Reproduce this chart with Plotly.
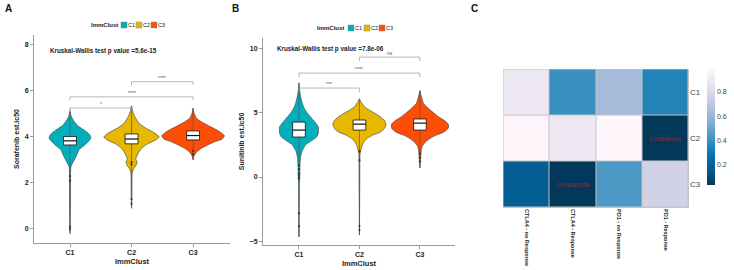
import plotly.graph_objects as go

W, H = 734, 270

groups = ["C1", "C2", "C3"]
group_pos = [1, 2, 3]
colors = ["#00AFBB", "#E7B800", "#FC4E07"]

# ---- Panel A: Sorafenib est.ic50 (violin profile: y level, half-width in category units)
sora_c1_y = [5.1, 4.9, 4.7, 4.5, 4.3, 4.1, 3.95, 3.8, 3.65, 3.45, 3.15, 2.9, 2.7, 2.4, 1.0, -0.2]
sora_c1_w = [0.0, 0.02, 0.06, 0.12, 0.23, 0.32, 0.34, 0.30, 0.24, 0.15, 0.10, 0.05, 0.015, 0.008, 0.007, 0.0]
sora_c2_y = [5.35, 5.1, 4.9, 4.6, 4.4, 4.2, 4.0, 3.85, 3.7, 3.5, 3.3, 3.05, 2.9, 2.75, 2.6, 2.4, 1.5, 0.9]
sora_c2_w = [0.0, 0.02, 0.05, 0.12, 0.22, 0.36, 0.45, 0.38, 0.26, 0.16, 0.11, 0.07, 0.09, 0.07, 0.03, 0.01, 0.007, 0.0]
sora_c3_y = [5.25, 5.0, 4.8, 4.65, 4.45, 4.25, 4.05, 3.9, 3.8, 3.65, 3.5, 3.35, 3.2, 3.0]
sora_c3_w = [0.0, 0.02, 0.06, 0.14, 0.28, 0.42, 0.51, 0.47, 0.36, 0.24, 0.13, 0.06, 0.02, 0.0]
sora_q1 = [3.65, 3.70, 3.87]
sora_med = [3.83, 3.91, 4.06]
sora_q3 = [4.02, 4.13, 4.26]
sora_min = [-0.2, 0.9, 3.0]
sora_max = [5.2, 5.35, 5.25]
sora_out_x = [1, 1, 1, 1, 2, 2, 2, 2, 3, 3]
sora_out_y = [2.3, 2.1, 0.1, 0.0, 2.9, 2.8, 1.3, 1.1, 3.4, 3.25]
sora_pairs = [(1, 2), (1, 3), (2, 3)]
sora_pair_y = [5.26, 5.74, 6.4]
sora_pair_lab = ["*", "****", "****"]
sora_kw = "Kruskal-Wallis test p value =5.6e-15"

# ---- Panel B: Sunitinib est.ic50
suni_c1_y = [7.3, 6.8, 6.3, 5.8, 5.4, 4.95, 4.45, 3.9, 3.4, 3.1, 2.85, 2.5, 2.0, 1.5, 0.8, 0.0, -0.6, -4.65]
suni_c1_w = [0.0, 0.01, 0.025, 0.05, 0.08, 0.14, 0.23, 0.32, 0.32, 0.29, 0.22, 0.11, 0.05, 0.025, 0.015, 0.012, 0.006, 0.0]
suni_c2_y = [6.05, 5.8, 5.45, 5.2, 4.93, 4.65, 4.35, 4.05, 3.75, 3.5, 3.25, 3.0, 2.75, 2.45, 2.2, 1.8, 0.0, -4.5]
suni_c2_w = [0.0, 0.03, 0.085, 0.16, 0.26, 0.35, 0.42, 0.44, 0.41, 0.35, 0.22, 0.13, 0.08, 0.045, 0.03, 0.01, 0.006, 0.0]
suni_c3_y = [6.7, 6.3, 5.7, 5.2, 4.7, 4.4, 4.1, 3.8, 3.5, 3.25, 3.0, 2.75, 2.4, 2.0, 1.4, 0.7]
suni_c3_w = [0.0, 0.02, 0.06, 0.17, 0.30, 0.40, 0.47, 0.47, 0.40, 0.27, 0.17, 0.10, 0.04, 0.02, 0.012, 0.0]
suni_q1 = [3.10, 3.64, 3.64]
suni_med = [3.64, 4.10, 4.18]
suni_q3 = [4.26, 4.42, 4.50]
suni_min = [-4.65, -4.5, 0.7]
suni_max = [7.3, 6.1, 6.7]
suni_out_x = [1, 1, 1, 1, 1, 1, 1, 2, 2, 2, 2, 3, 3, 3]
suni_out_y = [0.9, 0.6, 0.3, 0.1, -0.1, -2.8, -3.8, 2.0, 1.3, -3.8, -4.1, 1.8, 1.5, 1.2]
suni_pairs = [(1, 2), (1, 3), (2, 3)]
suni_pair_y = [6.9, 8.06, 9.3]
suni_pair_lab = ["***", "****", "ns"]
suni_kw = "Kruskal-Wallis test p value =7.8e-06"

# ---- Panel C: heatmap
heat_cols = ["CTLA4 - no Response", "CTLA4 - Response", "PD1 - no Response", "PD1 - Response"]
heat_rows = ["C1", "C2", "C3"]
heat_c1 = [0.88, 0.40, 0.63, 0.35]
heat_c2 = [0.98, 0.88, 0.995, 0.036]
heat_c3 = [0.18, 0.040, 0.44, 0.76]
heat_text_c1 = ["", "", "", ""]
heat_text_c2 = ["", "", "", "0.03590643"]
heat_text_c3 = ["", "0.04001599", "", ""]
cbar_ticks = [0.2, 0.4, 0.6, 0.8]

FONT = "Liberation Sans, Arial, sans-serif"
BOX_HALF = 0.105


def px(x):
    return x / W


def py(y):
    return 1 - y / H


fig = go.Figure()


def add_violin_panel(xa, ya, profiles, q1, med, q3, vmin, vmax, out_x, out_y):
    for i, (ys, ws) in enumerate(profiles):
        pos = group_pos[i]
        xs = [pos + w for w in ws] + [pos - w for w in reversed(ws)]
        yy = list(ys) + list(reversed(ys))
        fig.add_trace(go.Scatter(
            x=xs, y=yy, mode="lines", fill="toself", fillcolor=colors[i],
            line=dict(color="#3a3a3a", width=0.6, shape="spline", smoothing=0.5),
            name=groups[i], showlegend=False, hoverinfo="skip",
            xaxis=xa, yaxis=ya))
    for i in range(len(groups)):
        pos = group_pos[i]
        fig.add_trace(go.Scatter(
            x=[pos, pos, None, pos, pos], y=[vmin[i], q1[i], None, q3[i], vmax[i]],
            mode="lines", line=dict(color="#555", width=0.7),
            showlegend=False, hoverinfo="skip", xaxis=xa, yaxis=ya))
    fig.add_trace(go.Scatter(
        x=out_x, y=out_y, mode="markers",
        marker=dict(color="black", size=2.4, opacity=0.45),
        showlegend=False, hoverinfo="skip", xaxis=xa, yaxis=ya))
    for i in range(len(groups)):
        pos = group_pos[i]
        fig.add_trace(go.Scatter(
            x=[pos - BOX_HALF, pos + BOX_HALF, pos + BOX_HALF, pos - BOX_HALF, pos - BOX_HALF],
            y=[q1[i], q1[i], q3[i], q3[i], q1[i]],
            mode="lines", fill="toself", fillcolor="white",
            line=dict(color="#111", width=0.8),
            showlegend=False, hoverinfo="skip", xaxis=xa, yaxis=ya))
        fig.add_trace(go.Scatter(
            x=[pos - BOX_HALF, pos + BOX_HALF], y=[med[i], med[i]],
            mode="lines", line=dict(color="#111", width=1.2),
            showlegend=False, hoverinfo="skip", xaxis=xa, yaxis=ya))


add_violin_panel("x", "y",
                 [(sora_c1_y, sora_c1_w), (sora_c2_y, sora_c2_w), (sora_c3_y, sora_c3_w)],
                 sora_q1, sora_med, sora_q3, sora_min, sora_max, sora_out_x, sora_out_y)
add_violin_panel("x2", "y2",
                 [(suni_c1_y, suni_c1_w), (suni_c2_y, suni_c2_w), (suni_c3_y, suni_c3_w)],
                 suni_q1, suni_med, suni_q3, suni_min, suni_max, suni_out_x, suni_out_y)

heat_z = [heat_c1, heat_c2, heat_c3]
heat_text = [heat_text_c1, heat_text_c2, heat_text_c3]
fig.add_trace(go.Heatmap(
    z=heat_z, x=heat_cols, y=heat_rows, text=heat_text, texttemplate="%{text}",
    textfont=dict(color="#B0202A", size=6, family=FONT),
    colorscale="PuBu_r", xgap=1, ygap=1, xaxis="x3", yaxis="y3",
    colorbar=dict(x=px(707), xanchor="left", y=py(126.5), yanchor="middle",
                  len=117 / H, lenmode="fraction", thickness=8, outlinewidth=0,
                  xpad=0, ypad=0,
                  tickvals=cbar_ticks, ticks="", ticklabelposition="outside",
                  tickfont=dict(size=7, color="#444", family=FONT))))

shapes = []
annotations = []


def add_brackets(xr, yr, pairs, ys, labs, drop):
    for (a, b), yv, lab in zip(pairs, ys, labs):
        shapes.append(dict(type="path", xref=xr, yref=yr,
                           path=f"M {a},{yv - drop} L {a},{yv} L {b},{yv} L {b},{yv - drop}",
                           line=dict(color="#9a9a9a", width=0.7)))
        annotations.append(dict(x=(a + b) / 2, y=yv, xref=xr, yref=yr, text=lab,
                                showarrow=False, yanchor="bottom", yshift=-1,
                                font=dict(size=5, color="#555", family=FONT)))


add_brackets("x", "y", sora_pairs, sora_pair_y, sora_pair_lab, 0.15)
add_brackets("x2", "y2", suni_pairs, suni_pair_y, suni_pair_lab, 0.32)

shapes.append(dict(type="rect", xref="x3", yref="y3", x0=-0.5, x1=3.5, y0=-0.5, y1=2.5,
                   fillcolor="#C4C4C4", line=dict(color="#C4C4C4", width=1), layer="below"))

annotations.append(dict(x=px(48), y=py(51), xref="paper", yref="paper", text=sora_kw,
                        showarrow=False, xanchor="left", yanchor="middle",
                        font=dict(size=6.3, color="#222", family=FONT, weight="bold")))
annotations.append(dict(x=px(275), y=py(49), xref="paper", yref="paper", text=suni_kw,
                        showarrow=False, xanchor="left", yanchor="middle",
                        font=dict(size=6.3, color="#222", family=FONT, weight="bold")))

for lab, x0 in [("A", 8), ("B", 236), ("C", 474)]:
    annotations.append(dict(x=px(x0), y=py(8), xref="paper", yref="paper", text=lab,
                            showarrow=False, xanchor="center", yanchor="middle",
                            font=dict(size=10, color="#111", family=FONT, weight="bold")))


def add_legend(title_right, ycen, sq_left):
    annotations.append(dict(x=px(title_right), y=py(ycen), xref="paper", yref="paper",
                            text="ImmClust", showarrow=False, xanchor="right", yanchor="middle",
                            font=dict(size=6, color="#222", family=FONT, weight="bold")))
    for g, c, xl in zip(groups, colors, sq_left):
        shapes.append(dict(type="rect", xref="paper", yref="paper",
                           x0=px(xl), x1=px(xl + 6), y0=py(ycen + 3), y1=py(ycen - 3),
                           fillcolor=c, line=dict(color="#888", width=0.5)))
        annotations.append(dict(x=px(xl + 6.3), y=py(ycen), xref="paper", yref="paper",
                                text=g, showarrow=False, xanchor="left", yanchor="middle",
                                borderpad=0,
                                font=dict(size=5.5, color="#222", family=FONT)))


add_legend(120, 25, [121, 136, 151])
add_legend(346, 28, [348, 364, 379])

axis_common = dict(showline=True, linecolor="#9a9a9a", linewidth=1, ticks="outside",
                   ticklen=3, tickcolor="#9a9a9a", showgrid=False, zeroline=False,
                   automargin=False,
                   tickfont=dict(size=7, color="#222", family=FONT, weight="bold"))

fig.update_layout(
    width=W, height=H, margin=dict(l=0, r=0, t=0, b=0, autoexpand=False),
    paper_bgcolor="white", plot_bgcolor="white", showlegend=False,
    xaxis=dict(domain=[px(34), px(230)], range=[0.415, 3.6], tickvals=group_pos,
               ticktext=groups, anchor="y",
               title=dict(text="ImmClust", standoff=3,
                          font=dict(size=7.5, color="#222", family=FONT, weight="bold")),
               **axis_common),
    yaxis=dict(domain=[py(243), py(35)], range=[-0.61, 8.43], tickvals=[0, 2, 4, 6, 8],
               anchor="x",
               title=dict(text="Sorafenib est.ic50", standoff=4,
                          font=dict(size=7, color="#222", family=FONT, weight="bold")),
               **axis_common),
    xaxis2=dict(domain=[px(263), px(455)], range=[0.405, 3.58], tickvals=group_pos,
                ticktext=groups, anchor="y2",
                title=dict(text="ImmClust", standoff=3,
                           font=dict(size=7.5, color="#222", family=FONT, weight="bold")),
                **axis_common),
    yaxis2=dict(domain=[py(245), py(38)], range=[-5.27, 10.78], tickvals=[-5, 0, 5, 10],
                anchor="x2",
                title=dict(text="Sunitinib est.ic50", standoff=4,
                           font=dict(size=7, color="#222", family=FONT, weight="bold")),
                **axis_common),
    xaxis3=dict(domain=[px(503), px(689)], anchor="y3", tickangle=90, showgrid=False,
                zeroline=False, showline=False, ticks="", automargin=False,
                tickfont=dict(size=5.5, color="#222", family=FONT, weight="bold")),
    yaxis3=dict(domain=[py(208), py(69)], anchor="x3", side="right", autorange="reversed",
                showgrid=False, zeroline=False, showline=False, ticks="", automargin=False,
                tickfont=dict(size=8, color="#444", family=FONT)),
    shapes=shapes, annotations=annotations,
)

fig.write_html("out.html", config={"displayModeBar": False},
               post_script="document.body.style.margin='0px';document.body.style.overflow='hidden';")
